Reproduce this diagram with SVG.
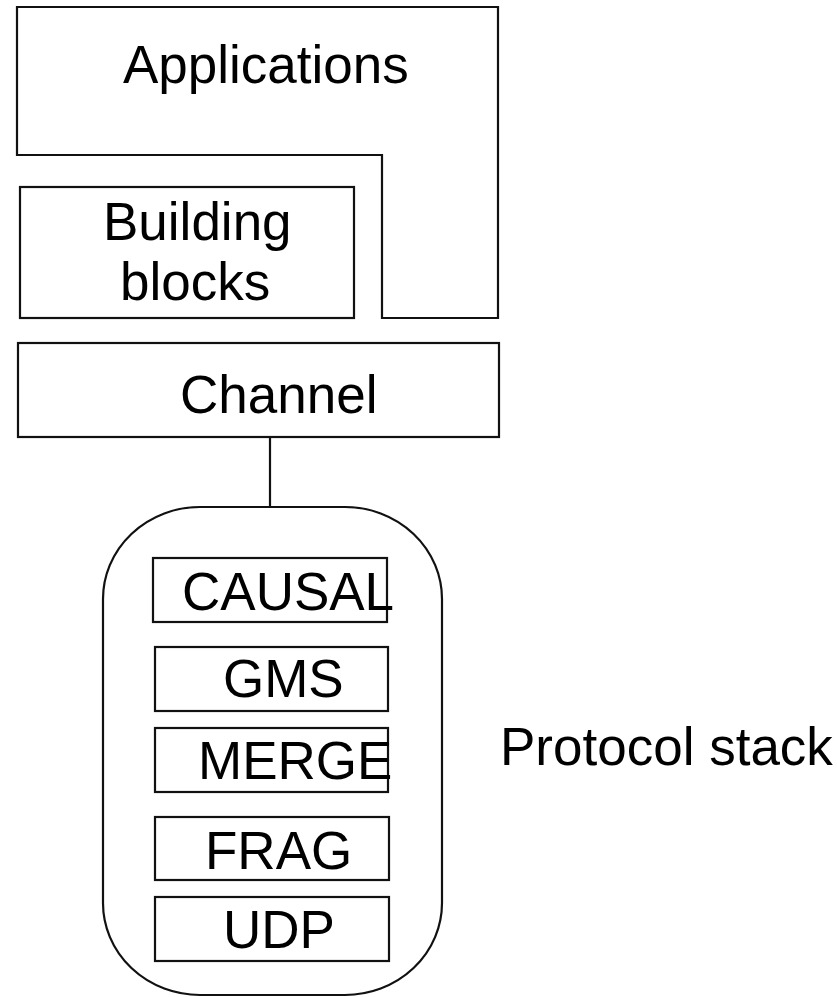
<svg xmlns="http://www.w3.org/2000/svg" width="837" height="997" viewBox="0 0 837 997">
  <style>
    .box { fill: #ffffff; stroke: #111111; stroke-width: 2.2; }
    .wire { fill: none; stroke: #111111; stroke-width: 2.2; }
    .lbl { font-family: "Liberation Sans", Arial, sans-serif; font-size: 53px; fill: #000000; }
  </style>
  <rect width="837" height="997" fill="#ffffff"/>

  <g id="applications">
    <path class="box" d="M17,7 H498 V318 H382 V155 H17 Z"/>
    <text class="lbl" x="123" y="83" font-size="54.5">Applications</text>
  </g>

  <g id="building-blocks">
    <rect class="box" x="20" y="187" width="334" height="131"/>
    <text class="lbl" x="103" y="240">Building</text>
    <text class="lbl" x="120" y="300">blocks</text>
  </g>

  <g id="channel">
    <rect class="box" x="18" y="343" width="481" height="94"/>
    <text class="lbl" x="180" y="413">Channel</text>
  </g>

  <g id="connectors">
    <line class="wire" x1="270" y1="437" x2="270" y2="507"/>
  </g>

  <g id="protocol-stack">
    <rect class="box" x="103" y="507" width="339" height="488" rx="97" ry="92"/>
    <text class="lbl" x="500" y="765">Protocol stack</text>
  </g>

  <g id="causal">
    <rect class="box" x="153" y="558" width="234" height="64"/>
    <text class="lbl" x="182" y="610" font-size="52.5">CAUSAL</text>
  </g>

  <g id="gms">
    <rect class="box" x="155" y="647" width="233" height="64"/>
    <text class="lbl" x="223" y="697" font-size="51.5">GMS</text>
  </g>

  <g id="merge">
    <rect class="box" x="155" y="728" width="233" height="64"/>
    <text class="lbl" x="198" y="779" font-size="51.5">MERGE</text>
  </g>

  <g id="frag">
    <rect class="box" x="155" y="817" width="234" height="63"/>
    <text class="lbl" x="205" y="869" font-size="52">FRAG</text>
  </g>

  <g id="udp">
    <rect class="box" x="155" y="897" width="234" height="64"/>
    <text class="lbl" x="223" y="948" font-size="51.5">UDP</text>
  </g>
</svg>
